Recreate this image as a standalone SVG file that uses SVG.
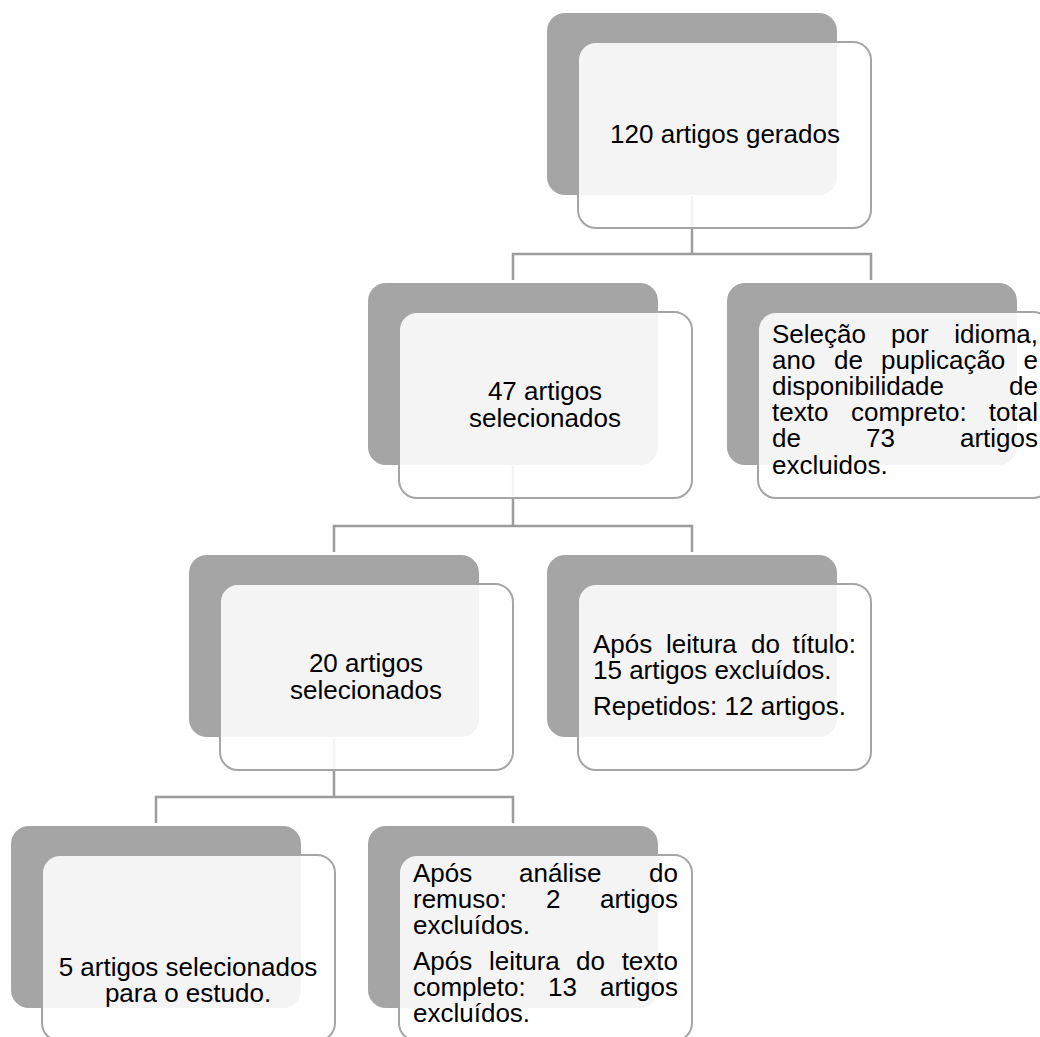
<svg xmlns="http://www.w3.org/2000/svg" width="1040" height="1037" viewBox="0 0 1040 1037">
<style>
.back{fill:#a5a5a5}
.front{fill:#ffffff;fill-opacity:0.88;stroke:#a5a5a5;stroke-width:2}
.conn{fill:none;stroke:#9c9c9c;stroke-width:2.5}
text{font-family:"Liberation Sans",Arial,sans-serif;font-size:26px;fill:#000}
.c{text-anchor:middle}
.e{text-anchor:end}
</style>
<rect width="1040" height="1037" fill="#ffffff"/>
<g id="connectors">
<path class="conn" d="M692 196 V254 M513 280 V254 H871 V280"/>
<path class="conn" d="M513 466 V526 M334 552 V526 H692 V552"/>
<path class="conn" d="M334 738 V797 M156 823 V797 H513 V823"/>
</g>
<g id="n1">
<rect class="back" x="547" y="13" width="290" height="182" rx="18"/>
<rect class="front" x="578" y="42" width="293" height="186" rx="18"/>
<text class="c" x="725" y="143">120 artigos gerados</text>
</g>
<g id="n2">
<rect class="back" x="368" y="283" width="290" height="182" rx="18"/>
<rect class="front" x="399" y="312" width="293" height="186" rx="18"/>
<text class="c" x="545" y="400">47 artigos</text>
<text class="c" x="545" y="427">selecionados</text>
</g>
<g id="n3">
<rect class="back" x="727" y="283" width="290" height="182" rx="18"/>
<rect class="front" x="758" y="312" width="293" height="186" rx="18"/>
<text x="772" y="343">Seleção</text><text x="891" y="343">por</text><text class="e" x="1038" y="343">idioma,</text>
<text x="772" y="369">ano</text><text x="834" y="369">de</text><text x="881" y="369">puplicação</text><text class="e" x="1038" y="369">e</text>
<text x="772" y="395">disponibilidade</text><text class="e" x="1038" y="395">de</text>
<text x="772" y="421">texto</text><text x="851" y="421">compreto:</text><text class="e" x="1038" y="421">total</text>
<text x="772" y="447">de</text><text x="866" y="447">73</text><text class="e" x="1038" y="447">artigos</text>
<text x="772" y="474">excluidos.</text>
</g>
<g id="n4">
<rect class="back" x="189" y="555" width="290" height="182" rx="18"/>
<rect class="front" x="220" y="584" width="293" height="186" rx="18"/>
<text class="c" x="366" y="672">20 artigos</text>
<text class="c" x="366" y="699">selecionados</text>
</g>
<g id="n5">
<rect class="back" x="547" y="555" width="290" height="182" rx="18"/>
<rect class="front" x="578" y="584" width="293" height="186" rx="18"/>
<text x="593" y="653">Após</text><text x="666" y="653">leitura</text><text x="751" y="653">do</text><text class="e" x="856" y="653">título:</text>
<text x="593" y="679">15 artigos excluídos.</text>
<text x="593" y="715">Repetidos: 12 artigos.</text>
</g>
<g id="n6">
<rect class="back" x="11" y="826" width="290" height="182" rx="18"/>
<rect class="front" x="42" y="855" width="293" height="186" rx="18"/>
<text class="c" x="188" y="976">5 artigos selecionados</text>
<text class="c" x="188" y="1002">para o estudo.</text>
</g>
<g id="n7">
<rect class="back" x="368" y="826" width="290" height="182" rx="18"/>
<rect class="front" x="399" y="855" width="293" height="186" rx="18"/>
<text x="413" y="882">Após</text><text x="519" y="882">análise</text><text class="e" x="678" y="882">do</text>
<text x="413" y="908">remuso:</text><text x="546" y="908">2</text><text class="e" x="678" y="908">artigos</text>
<text x="413" y="934">excluídos.</text>
<text x="413" y="970">Após</text><text x="489" y="970">leitura</text><text x="576" y="970">do</text><text class="e" x="678" y="970">texto</text>
<text x="413" y="996">completo:</text><text x="548" y="996">13</text><text class="e" x="678" y="996">artigos</text>
<text x="413" y="1022">excluídos.</text>
</g>
</svg>
